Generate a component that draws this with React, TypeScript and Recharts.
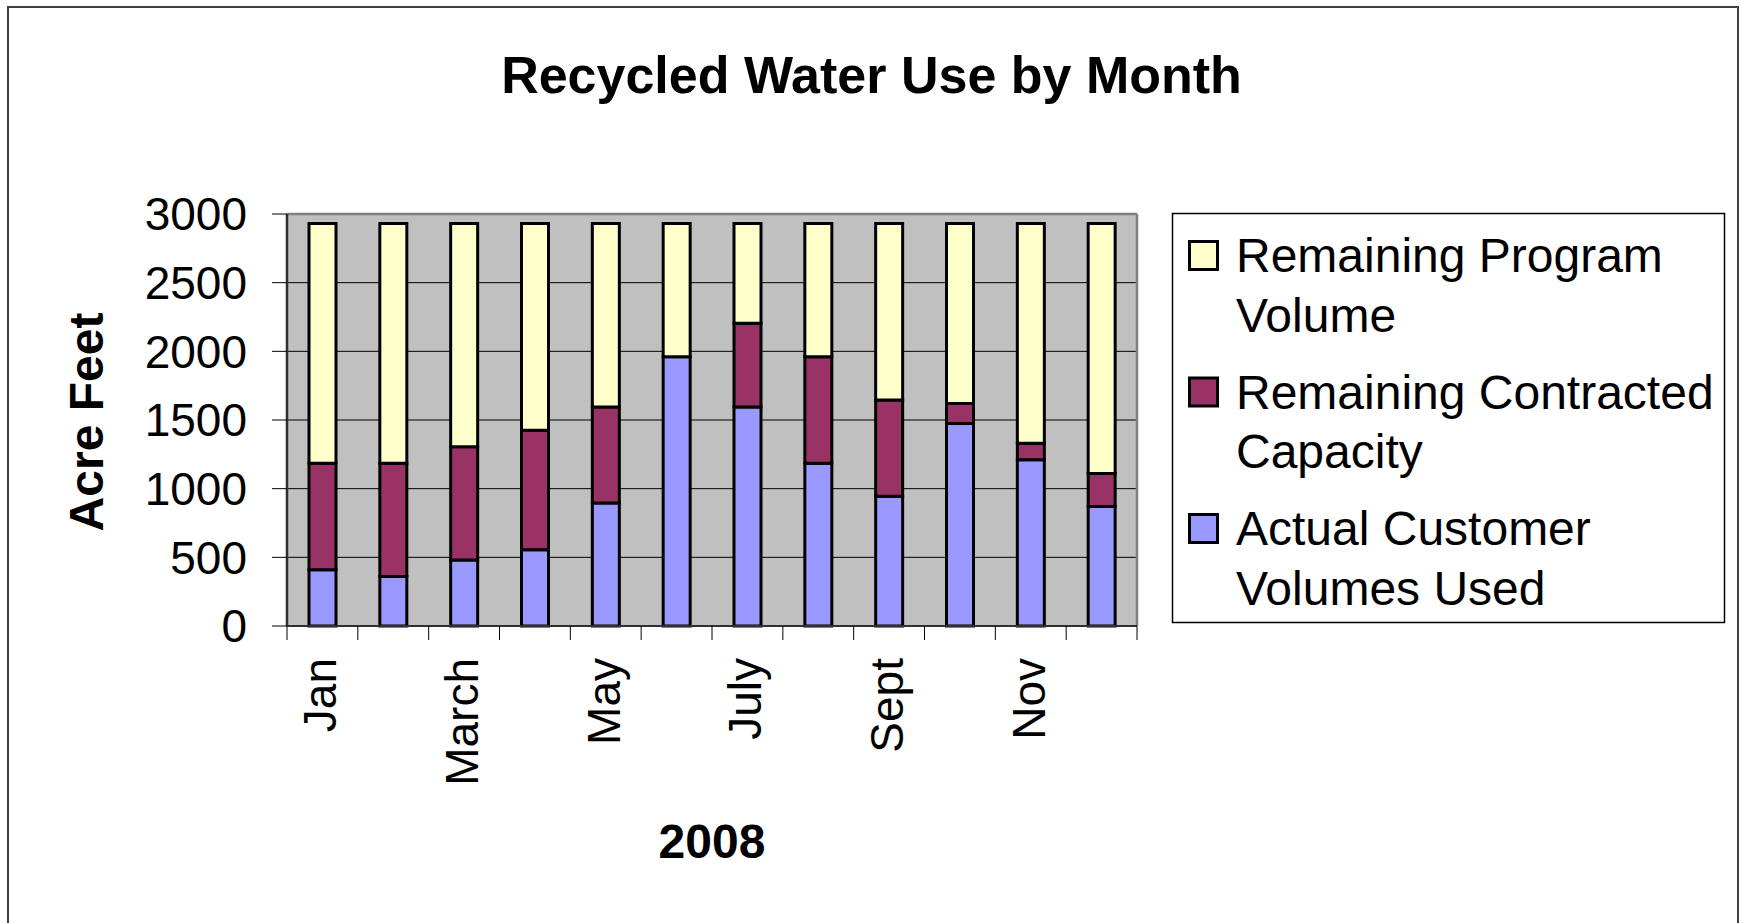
import React from 'react';
import * as Recharts from 'recharts';

const { BarChart, Bar, XAxis, YAxis, CartesianGrid, ReferenceLine } = Recharts as any;

const FONT = "'Liberation Sans', Arial, Helvetica, sans-serif";

// ---- data ----
const months = ['Jan', 'Feb', 'March', 'April', 'May', 'June', 'July', 'Aug', 'Sept', 'Oct', 'Nov', 'Dec'];
const shownMonthLabels = ['Jan', 'March', 'May', 'July', 'Sept', 'Nov'];
const actualUsed = [410, 360, 480, 555, 895, 1960, 1595, 1185, 945, 1475, 1210, 870];
const remainingContracted = [775, 825, 825, 870, 700, 0, 610, 775, 700, 145, 120, 240];
const remainingProgram = [1745, 1745, 1625, 1505, 1335, 970, 725, 970, 1285, 1310, 1600, 1820];
const yTicks = [0, 500, 1000, 1500, 2000, 2500, 3000];

const series = [
  { key: 'actual', lines: ['Actual Customer', 'Volumes Used'], color: '#9999FF', values: actualUsed },
  { key: 'contracted', lines: ['Remaining Contracted', 'Capacity'], color: '#993366', values: remainingContracted },
  { key: 'program', lines: ['Remaining Program', 'Volume'], color: '#FFFFCC', values: remainingProgram },
];

const data = months.map((m, i) => {
  const row: any = { month: m };
  series.forEach((s) => {
    row[s.key] = s.values[i];
  });
  return row;
});

const TITLE = 'Recycled Water Use by Month';
const Y_TITLE = 'Acre Feet';
const X_TITLE = '2008';

// ---- layout ----
const W = 1743;
const H = 923;
const PLOT_LEFT = 287;
const PLOT_RIGHT = 1137;
const PLOT_TOP = 214;
const PLOT_BOTTOM = 626;
const X_AXIS_H = 60;

const XTick = (props: any) => {
  const { x, y, payload, index } = props;
  const half = payload && typeof payload.offset === 'number' ? payload.offset : 35.4;
  const label = shownMonthLabels.includes(payload.value) ? payload.value : '';
  const bx = x + 14;
  const by = y + 32;
  return (
    <g>
      <line x1={x - half} y1={y} x2={x - half} y2={y + 14} stroke="#000" strokeWidth={1} />
      {index === months.length - 1 && (
        <line x1={x + half} y1={y} x2={x + half} y2={y + 14} stroke="#000" strokeWidth={1} />
      )}
      {label && (
        <text
          x={bx}
          y={by}
          transform={`rotate(-90 ${bx} ${by})`}
          textAnchor="end"
          fontSize={46}
          fontFamily={FONT}
          fill="#000"
        >
          {label}
        </text>
      )}
    </g>
  );
};

const PlotFrame = () => {
  const hook = (Recharts as any).usePlotArea;
  const area = hook ? hook() : null;
  const x = area ? area.x : PLOT_LEFT;
  const y = area ? area.y : PLOT_TOP;
  const w = area ? area.width : PLOT_RIGHT - PLOT_LEFT;
  const h = area ? area.height : PLOT_BOTTOM - PLOT_TOP;
  return (
    <g>
      <line x1={x} y1={y} x2={x + w} y2={y} stroke="#808080" strokeWidth={2.5} />
      <line x1={x + w} y1={y} x2={x + w} y2={y + h} stroke="#808080" strokeWidth={2.5} />
    </g>
  );
};

const legendItems = [...series].reverse();

export default function App() {
  return (
    <div style={{ position: 'absolute', left: 0, top: 0, width: W, height: H, overflow: 'hidden', background: '#fff' }}>
      <div
        style={{
          position: 'absolute',
          left: 7,
          top: 6,
          width: 1732,
          height: 940,
          border: '2px solid #404040',
          boxSizing: 'border-box',
        }}
      />
      <div style={{ position: 'absolute', left: 0, top: 0 }}>
        <BarChart
          width={W}
          height={H}
          data={data}
          margin={{ top: PLOT_TOP, right: W - PLOT_RIGHT, bottom: H - PLOT_BOTTOM - X_AXIS_H, left: 0 }}
          barSize={27}
        >
          <CartesianGrid
            vertical={false}
            horizontal={true}
            stroke="#000"
            strokeWidth={1}
            fill="#C0C0C0"
            fillOpacity={1}
          />
          <XAxis
            dataKey="month"
            type="category"
            interval={0}
            height={X_AXIS_H}
            tickLine={false}
            tickSize={0}
            tickMargin={0}
            axisLine={{ stroke: '#303030', strokeWidth: 2 }}
            tick={<XTick />}
          />
          <YAxis
            type="number"
            domain={[0, 3000]}
            ticks={yTicks}
            interval={0}
            width={PLOT_LEFT}
            tickSize={15}
            tickMargin={25}
            tickLine={{ stroke: '#000', strokeWidth: 1 }}
            axisLine={{ stroke: '#303030', strokeWidth: 2.5 }}
            tick={{ fontSize: 46, fill: '#000', fontFamily: FONT }}
          />
          {series.map((s) => (
            <Bar
              key={s.key}
              dataKey={s.key}
              stackId="a"
              fill={s.color}
              stroke="#000"
              strokeWidth={3}
              isAnimationActive={false}
            />
          ))}
          <PlotFrame />
        </BarChart>
      </div>
      <svg
        width={W}
        height={H}
        style={{ position: 'absolute', left: 0, top: 0, pointerEvents: 'none' }}
      >
        <text
          x={W / 2}
          y={93}
          textAnchor="middle"
          fontSize={52}
          fontWeight="bold"
          fontFamily={FONT}
          fill="#000"
        >
          {TITLE}
        </text>
        <text
          x={103}
          y={422}
          transform="rotate(-90 103 422)"
          textAnchor="middle"
          fontSize={48}
          fontWeight="bold"
          fontFamily={FONT}
          fill="#000"
        >
          {Y_TITLE}
        </text>
        <text
          x={(PLOT_LEFT + PLOT_RIGHT) / 2}
          y={858}
          textAnchor="middle"
          fontSize={48}
          fontWeight="bold"
          fontFamily={FONT}
          fill="#000"
        >
          {X_TITLE}
        </text>
        <rect x={1172.5} y={213.5} width={552} height={409} fill="#fff" stroke="#000" strokeWidth={1.5} />
        {legendItems.map((s, i) => {
          const base = 272 + i * 136.5;
          return (
            <g key={s.key}>
              <rect x={1189.5} y={base - 30.5} width={28} height={28} fill={s.color} stroke="#000" strokeWidth={3} />
              {s.lines.map((ln, j) => (
                <text
                  key={j}
                  x={1236}
                  y={base + j * 59.5}
                  fontSize={48}
                  fontFamily={FONT}
                  fill="#000"
                >
                  {ln}
                </text>
              ))}
            </g>
          );
        })}
      </svg>
    </div>
  );
}
